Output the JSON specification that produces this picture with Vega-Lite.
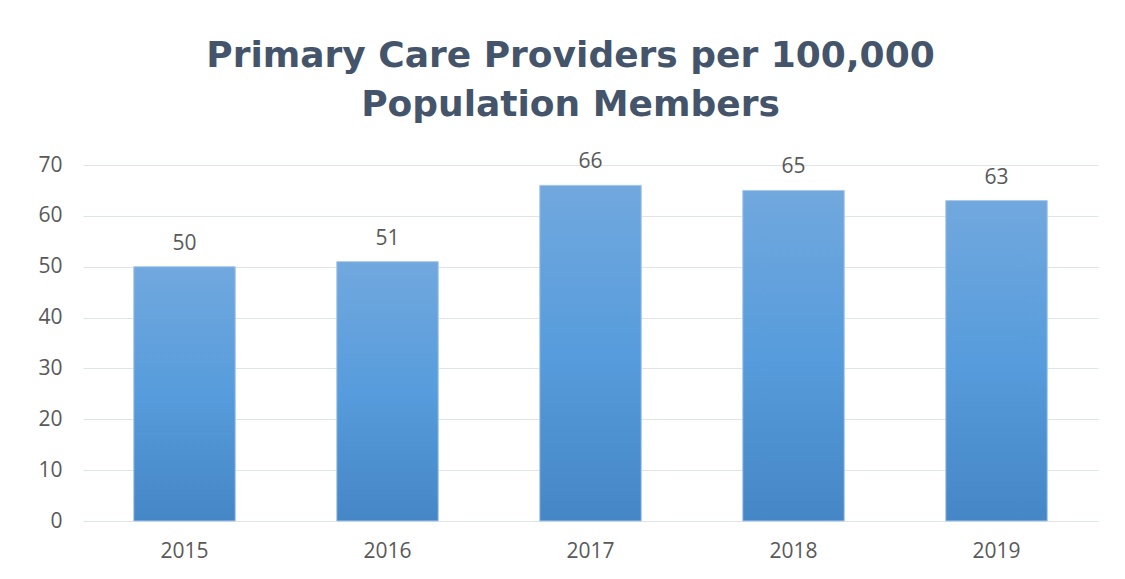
{
  "$schema": "https://vega.github.io/schema/vega-lite/v6.json",
  "width": 1015,
  "height": 356,
  "autosize": {"type": "none"},
  "padding": {"left": 83, "top": 165, "right": 27, "bottom": 58},
  "background": "white",
  "config": {
    "view": {"stroke": null},
    "font": "Open Sans"
  },
  "title": {
    "text": ["Primary Care Providers per 100,000", "Population Members"],
    "fontSize": 36,
    "fontWeight": "bold",
    "font": "DejaVu Sans",
    "color": "#44546a",
    "lineHeight": 49,
    "anchor": "middle",
    "dx": -20,
    "offset": 27
  },
  "data": {
    "values": [
      {"year": "2015", "value": 50},
      {"year": "2016", "value": 51},
      {"year": "2017", "value": 66},
      {"year": "2018", "value": 65},
      {"year": "2019", "value": 63}
    ]
  },
  "encoding": {
    "x": {
      "field": "year",
      "type": "nominal",
      "sort": null,
      "scale": {"paddingInner": 0.5, "paddingOuter": 0.25},
      "axis": {
        "title": null,
        "labelAngle": 0,
        "labelFontSize": 21,
        "labelColor": "#595959",
        "labelPadding": 19,
        "ticks": false,
        "domain": false,
        "grid": false
      }
    },
    "y": {
      "field": "value",
      "type": "quantitative",
      "scale": {"domain": [0, 70]},
      "axis": {
        "title": null,
        "values": [0, 10, 20, 30, 40, 50, 60, 70],
        "labelFontSize": 21,
        "labelColor": "#595959",
        "labelPadding": 21,
        "ticks": false,
        "domain": false,
        "grid": true,
        "gridColor": "#dfe3ea",
        "gridWidth": 1
      }
    }
  },
  "layer": [
    {
      "mark": {
        "type": "bar",
        "stroke": "#a8c8ea",
        "strokeWidth": 1,
        "color": {
          "gradient": "linear",
          "x1": 0, "y1": 0, "x2": 0, "y2": 1,
          "stops": [
            {"offset": 0, "color": "#71a8de"},
            {"offset": 0.5, "color": "#579cdc"},
            {"offset": 1, "color": "#4586c6"}
          ]
        }
      }
    },
    {
      "mark": {
        "type": "text",
        "baseline": "bottom",
        "dy": -13,
        "fontSize": 21,
        "color": "#595959"
      },
      "encoding": {"text": {"field": "value", "type": "quantitative"}}
    }
  ]
}
